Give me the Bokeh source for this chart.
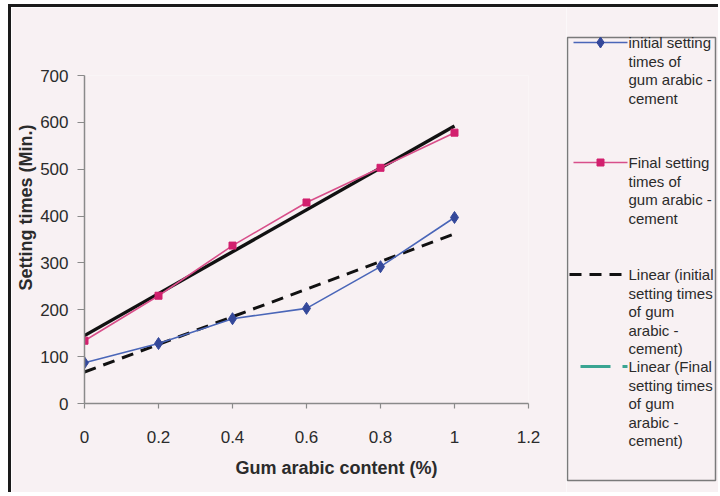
import numpy as np
from bokeh.plotting import figure
from bokeh.layouts import row
from bokeh.models import Range1d, FixedTicker, Title
from bokeh.core.properties import value
from bokeh.embed import file_html
from bokeh.resources import INLINE

# ---- data ----
gum_content = [0.0, 0.2, 0.4, 0.6, 0.8, 1.0]
initial_times = [87, 128, 181, 203, 292, 397]
final_times = [134, 230, 337, 429, 503, 578]

x_ticks = [0.0, 0.2, 0.4, 0.6, 0.8, 1.0, 1.2]
x_tick_labels = ["0", "0.2", "0.4", "0.6", "0.8", "1", "1.2"]
y_ticks = [0, 100, 200, 300, 400, 500, 600, 700]

legend_labels = [
    "initial setting\ntimes of\ngum arabic -\ncement",
    "Final setting\ntimes of\ngum arabic -\ncement",
    "Linear (initial\nsetting times\nof gum\narabic -\ncement)",
    "Linear (Final\nsetting times\nof gum\narabic -\ncement)",
]

# linear trendlines (least squares, as the spreadsheet "Linear" trendline)
xa = np.array(gum_content)
k_i, b_i = np.polyfit(xa, np.array(initial_times, float), 1)
k_f, b_f = np.polyfit(xa, np.array(final_times, float), 1)
trend_x = [gum_content[0], gum_content[-1]]
trend_i = [k_i * t + b_i for t in trend_x]
trend_f = [k_f * t + b_f for t in trend_x]

BG = "#f8f1f3"
FONT = "Liberation Sans"
BLUE = "#4a66b8"
BLUE_M = "#34489a"
PINK = "#d84f8a"
PINK_M = "#d2206e"
TEAL = "#3aa592"
AX = "#8a8a8a"
TXT = "#2b2b2b"

# ---- main plot ----
p = figure(width=555, height=485, output_backend="svg", toolbar_location=None,
           x_range=Range1d(0, 1.2), y_range=Range1d(0, 700),
           min_border_left=72, min_border_right=38, min_border_top=68, min_border_bottom=89)
p.frame_align = False
p.background_fill_color = BG
p.border_fill_color = BG
p.outline_line_color = None
p.grid.visible = False

p.xaxis.ticker = FixedTicker(ticks=x_ticks)
p.xaxis.major_label_overrides = {t: l for t, l in zip(x_ticks, x_tick_labels)}
p.yaxis.ticker = FixedTicker(ticks=y_ticks)
for ax in (p.xaxis, p.yaxis):
    ax.axis_line_color = AX
    ax.axis_line_width = 1.5
    ax.major_tick_line_color = AX
    ax.major_tick_line_width = 1.2
    ax.major_tick_in = 0
    ax.minor_tick_line_color = None
    ax.major_label_text_font = FONT
    ax.major_label_text_font_size = "17px"
    ax.major_label_text_color = TXT
p.xaxis.major_tick_out = 5
p.xaxis.major_label_standoff = 22
p.yaxis.major_tick_out = 7
p.yaxis.major_label_standoff = 9

p.line(trend_x, trend_i, line_color="#111111", line_width=3, line_dash="12 8")
p.line(trend_x, trend_f, line_color="#111111", line_width=3.4)
p.line(gum_content, initial_times, line_color=BLUE, line_width=1.6)
p.scatter(gum_content, initial_times, marker="diamond", size=12, fill_color=BLUE_M, line_color=BLUE_M)
p.line(gum_content, final_times, line_color=PINK, line_width=1.6)
p.scatter(gum_content, final_times, marker="square", size=7, fill_color=PINK_M, line_color=PINK_M)

p.add_layout(Title(text="Gum arabic content (%)", align="left", offset=151, standoff=20,
                   text_font=FONT, text_font_size="18px", text_font_style="bold",
                   text_color=TXT), "below")
p.add_layout(Title(text="Setting times (Min.)", align="left", offset=113, standoff=4,
                   text_font=FONT, text_font_size="18px", text_font_style="bold",
                   text_color=TXT), "left")

# ---- legend panel ----
W, H = 152, 485
lg = figure(width=W, height=H, output_backend="svg", toolbar_location=None,
            x_range=Range1d(0, W), y_range=Range1d(H, 0), min_border=0)
lg.frame_align = False
lg.axis.visible = False
lg.grid.visible = False
lg.outline_line_color = None
lg.background_fill_color = BG
lg.border_fill_color = BG

lg.quad(left=[1], right=[149], top=[30], bottom=[473], fill_color=None,
        line_color="#7a7a7a", line_width=1.5)

first_line = [35, 155, 267, 359]
spacing = 18.5
tx, ty, tt = [], [], []
for y0, lab in zip(first_line, legend_labels):
    for i, part in enumerate(lab.split("\n")):
        tx.append(62)
        ty.append(y0 + i * spacing)
        tt.append(part)
lg.text(tx, ty, text=tt, text_baseline="middle", text_align="left",
        text_font=value(FONT), text_font_size="15px", text_color=TXT)

y1, y2, y3, y4 = first_line
lg.line([7, 61], [y1, y1], line_color=BLUE, line_width=1.6)
lg.scatter([34], [y1], marker="diamond", size=11, fill_color=BLUE_M, line_color=BLUE_M)
lg.line([7, 61], [y2, y2], line_color=PINK, line_width=1.6)
lg.scatter([34], [y2], marker="square", size=7, fill_color=PINK_M, line_color=PINK_M)
lg.line([3, 61], [y3, y3], line_color="#111111", line_width=3, line_dash="12 8")
lg.line([14, 61], [y4, y4], line_color=TEAL, line_width=3, line_dash="30 12 5 60")

layout = row(p, lg, styles={"border-top": "3px solid #1a1a1a",
                            "border-left": "3px solid #1a1a1a",
                            "margin-top": "4px", "margin-left": "8px"})

open("out.html", "w").write(file_html(layout, INLINE))
